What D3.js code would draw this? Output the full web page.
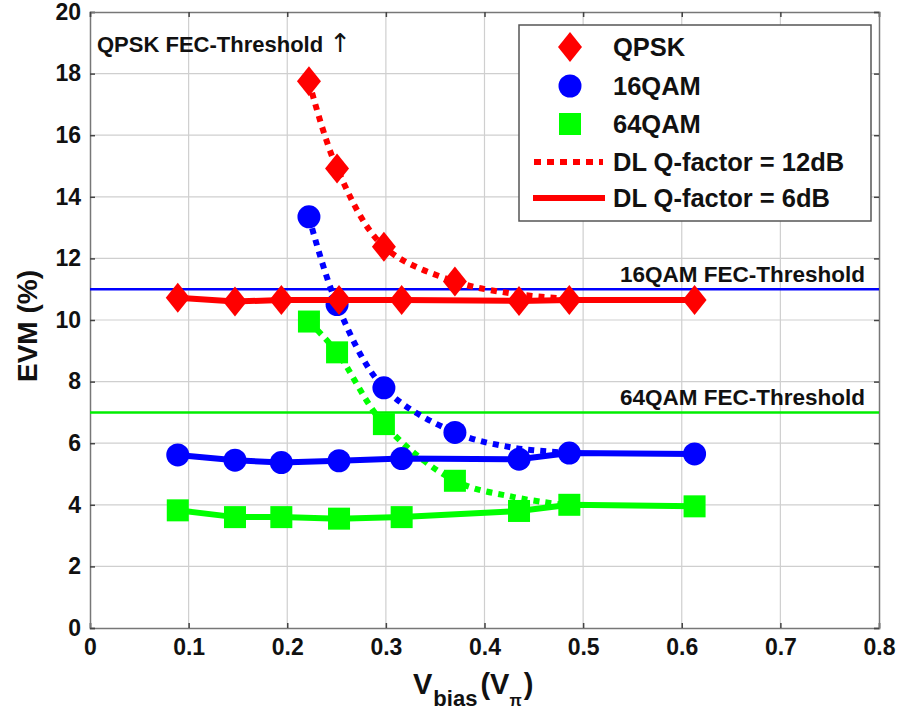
<!DOCTYPE html>
<html><head><meta charset="utf-8">
<script src="https://cdn.jsdelivr.net/npm/d3@7"></script>
<style>body{margin:0;background:#fff}svg{display:block}text{font-family:"Liberation Sans",Arial,sans-serif;font-weight:bold;fill:#111}</style>
</head><body><svg id="c" width="901" height="712"></svg>
<script>
// ---- data ----
const xTicks = [0,0.1,0.2,0.3,0.4,0.5,0.6,0.7,0.8];
const yTicks = [0,2,4,6,8,10,12,14,16,18,20];
// solid (DL Q-factor = 6dB)
const xSolid = [0.089,0.147,0.194,0.2525,0.316,0.435,0.486,0.613];
const qpskSolid = [10.72,10.6,10.65,10.65,10.65,10.62,10.65,10.65];
const qam16Solid = [5.62,5.45,5.37,5.43,5.5,5.48,5.68,5.65];
const qam64Solid = [3.82,3.6,3.6,3.55,3.6,3.8,4.0,3.95];
// dotted (DL Q-factor = 12dB) markers
const xDotMk = [0.222,0.2505,0.298,0.370];
const qpskDotMk = [17.75,14.92,12.38,11.25];
const qam16DotMk = [13.35,10.5,7.8,6.35];
const qam64DotMk = [9.95,8.95,6.62,4.78];
// dotted curves
const xDotCurve = [0.222,0.2505,0.298,0.370,0.43,0.48];
const qpskDotCurve = [17.75,14.92,12.38,11.25,10.85,10.7];
const qam16DotCurve = [13.35,10.5,7.8,6.35,5.85,5.7];
const qam64DotCurve = [9.95,8.95,6.62,4.78,4.25,4.0];
const thresholds = [{v:11,color:"#0000ff",label:"16QAM FEC-Threshold"},{v:7,color:"#00ee00",label:"64QAM FEC-Threshold"}];
const legendLabels = ["QPSK","16QAM","64QAM","DL Q-factor = 12dB","DL Q-factor = 6dB"];

const RED="#ff0000", BLUE="#0000ff", GREEN="#00ff00";
const svg = d3.select("#c");
const L=90,R=879,T=12,B=628;
const x = d3.scaleLinear().domain([0,0.8]).range([L,R]);
const y = d3.scaleLinear().domain([0,20]).range([B,T]);

// grid
const g = svg.append("g");
g.selectAll(".gx").data(xTicks.slice(1,-1)).join("line").attr("x1",d=>x(d)).attr("x2",d=>x(d)).attr("y1",T).attr("y2",B).attr("stroke","#cfcfcf").attr("stroke-width",1.2);
g.selectAll(".gy").data(yTicks.slice(1,-1)).join("line").attr("y1",d=>y(d)).attr("y2",d=>y(d)).attr("x1",L).attr("x2",R).attr("stroke","#cfcfcf").attr("stroke-width",1.2);

// axes
const ax = svg.append("g").attr("transform",`translate(0,${B})`).call(d3.axisBottom(x).tickValues(xTicks).tickFormat(d=>d===0?"0":d3.format(".1f")(d)).tickSize(-5).tickPadding(11));
const ay = svg.append("g").attr("transform",`translate(${L},0)`).call(d3.axisLeft(y).tickValues(yTicks).tickSize(-5).tickPadding(9));
const axT = svg.append("g").attr("transform",`translate(0,${T})`).call(d3.axisTop(x).tickValues(xTicks).tickFormat("").tickSize(-5));
const ayR = svg.append("g").attr("transform",`translate(${R},0)`).call(d3.axisRight(y).tickValues(yTicks).tickFormat("").tickSize(-5));
[ax,ay,axT,ayR].forEach(a=>{a.select(".domain").attr("stroke","#777").attr("stroke-width",1.5);a.selectAll(".tick line").attr("stroke","#444").attr("stroke-width",1.5);a.selectAll("text").attr("font-size",23).attr("font-family","Liberation Sans, Arial").attr("font-weight","bold").attr("fill","#111");});

// thresholds
thresholds.forEach(t=>{
  svg.append("line").attr("x1",L).attr("x2",R).attr("y1",y(t.v)).attr("y2",y(t.v)).attr("stroke",t.color).attr("stroke-width",2.5);
  svg.append("text").attr("x",865).attr("y",y(t.v)-7).attr("text-anchor","end").attr("font-size",22.5).text(t.label);
});
const qt = svg.append("text").attr("x",97).attr("y",52).attr("font-size",22);
qt.append("tspan").text("QPSK FEC-Threshold ");
qt.append("tspan").attr("font-family","DejaVu Sans").attr("font-weight","normal").attr("font-size",26).text("\u2191");

const curve = d3.line().x(d=>x(d[0])).y(d=>y(d[1])).curve(d3.curveCatmullRom);
const lin = d3.line().x(d=>x(d[0])).y(d=>y(d[1]));
const zip=(a,b)=>a.map((v,i)=>[v,b[i]]);

const series=[
  {c:RED,shape:"diamond",solid:qpskSolid,dotMk:qpskDotMk,dotC:qpskDotCurve},
  {c:BLUE,shape:"circle",solid:qam16Solid,dotMk:qam16DotMk,dotC:qam16DotCurve},
  {c:GREEN,shape:"square",solid:qam64Solid,dotMk:qam64DotMk,dotC:qam64DotCurve}
];
function marker(sel,shape,color){
  if(shape==="diamond") sel.append("path").attr("d","M0,-15L12,0L0,15L-12,0Z").attr("fill",color);
  else if(shape==="circle") sel.append("circle").attr("r",11.5).attr("fill",color);
  else sel.append("rect").attr("x",-11).attr("y",-11).attr("width",22).attr("height",22).attr("fill",color);
}
[series[2],series[1],series[0]].forEach(s=>{
  svg.append("path").attr("d",curve(zip(xDotCurve,s.dotC))).attr("fill","none").attr("stroke",s.c).attr("stroke-width",6).attr("stroke-dasharray","6,6");
  svg.append("path").attr("d",lin(zip(xSolid,s.solid))).attr("fill","none").attr("stroke",s.c).attr("stroke-width",6);
  zip(xSolid,s.solid).concat(zip(xDotMk,s.dotMk)).forEach(p=>{
    marker(svg.append("g").attr("transform",`translate(${x(p[0])},${y(p[1])})`),s.shape,s.c);
  });
});

// legend
const lg = svg.append("g");
lg.append("rect").attr("x",519).attr("y",25).attr("width",352).attr("height",196).attr("fill","#fff").attr("stroke","#555").attr("stroke-width",1.5);
const ly=[47,86,124,162,198];
legendLabels.forEach((t,i)=>{
  lg.append("text").attr("x",613).attr("y",ly[i]+9).attr("font-size",25.5).text(t);
});
[["diamond",RED],["circle",BLUE],["square",GREEN]].forEach((m,i)=>marker(lg.append("g").attr("transform",`translate(570,${ly[i]})`),m[0],m[1]));
lg.append("line").attr("x1",534).attr("x2",603).attr("y1",ly[3]).attr("y2",ly[3]).attr("stroke",RED).attr("stroke-width",6).attr("stroke-dasharray","7,6");
lg.append("line").attr("x1",533).attr("x2",605).attr("y1",ly[4]).attr("y2",ly[4]).attr("stroke",RED).attr("stroke-width",6);

// axis titles
const xt = svg.append("text").attr("x",413).attr("y",694).attr("font-size",29);
xt.append("tspan").text("V");
xt.append("tspan").attr("font-size",22).attr("dy",12).attr("dx",1).text("bias");
xt.append("tspan").attr("dy",-12).attr("dx",3).text("(V");
xt.append("tspan").attr("font-size",16).attr("dy",12).text("\u03c0");
xt.append("tspan").attr("dy",-12).attr("dx",2).text(")");
svg.append("text").attr("transform","translate(37,326) rotate(-90)").attr("text-anchor","middle").attr("font-size",28).text("EVM (%)");
</script></body></html>
